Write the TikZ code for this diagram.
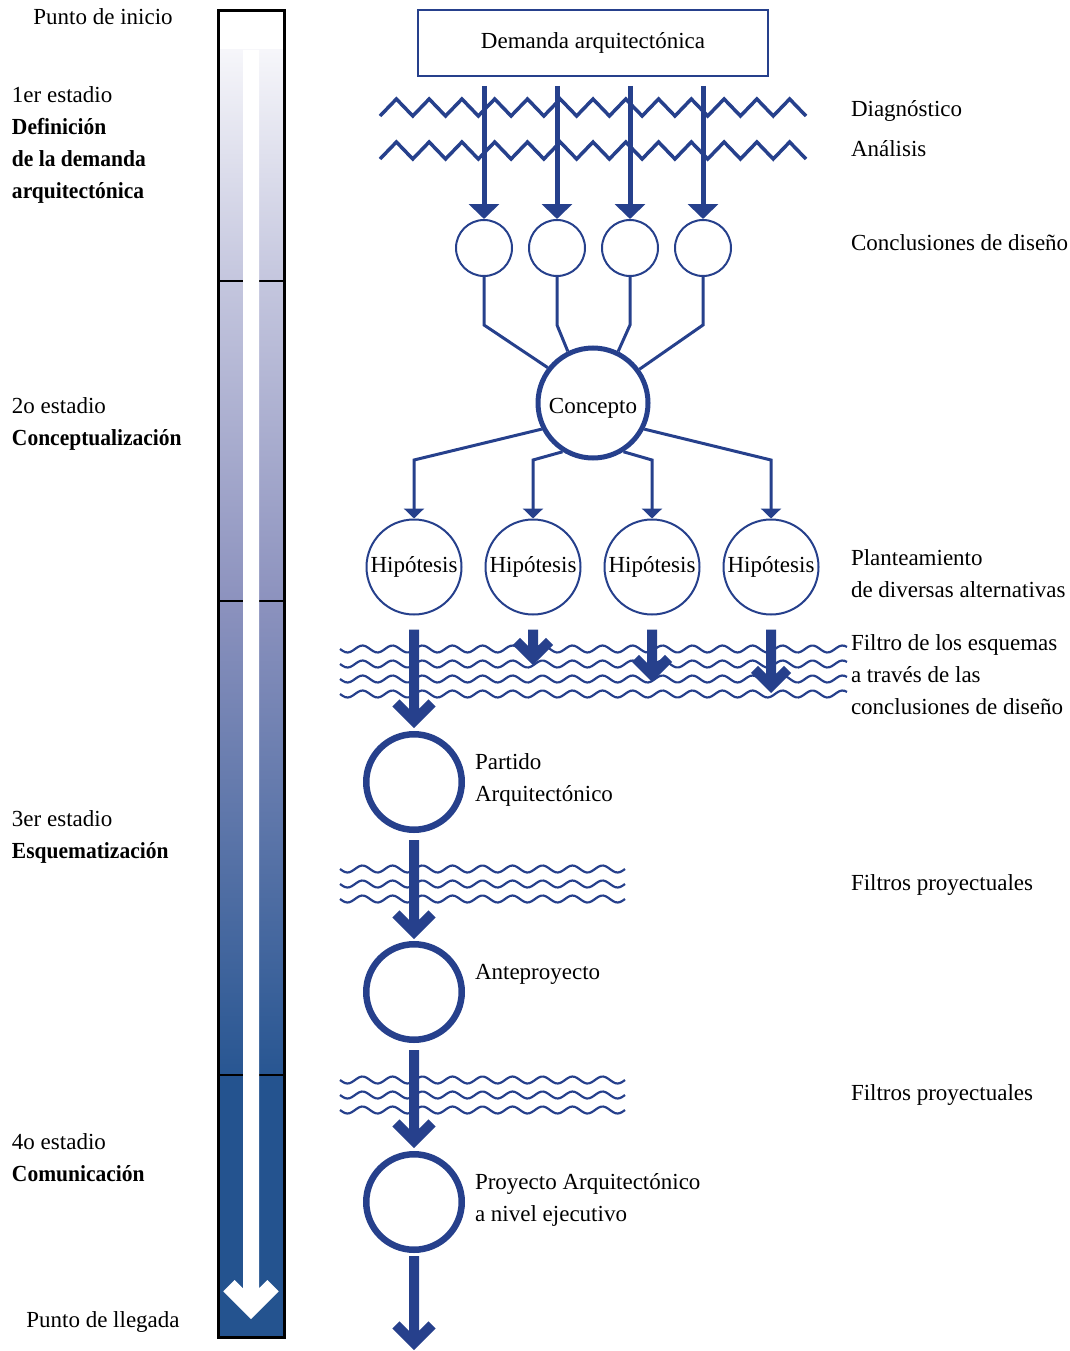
\documentclass[tikz,border=0pt]{standalone}
\usepackage{fontspec}
\setmainfont{Liberation Serif}
\newfontface\headface{Liberation Serif Bold}[FakeStretch=0.935]
\usetikzlibrary{arrows.meta,calc}

\definecolor{ink}{RGB}{38,64,140}
\definecolor{barA}{RGB}{246,246,250}
\definecolor{barB}{RGB}{196,198,222}
\definecolor{barC}{RGB}{140,146,190}
\definecolor{barD}{RGB}{40,86,146}
\definecolor{barE}{RGB}{36,83,143}

% heavy arrow with an open chevron head: start, tip, arm length, apex offset
\newcommand\chevarrow[4]{%
  \draw[heavy] #1 -- ($#2+(0,-#4)$) ++(-#3,-#3) -- ++(#3,#3) -- ++(#3,-#3);}

\begin{document}
\begin{tikzpicture}[x=1pt,y=-1pt,
  font=\fontsize{23}{32}\selectfont,
  txt/.style={inner sep=0pt, outer sep=0pt, anchor=base west},
  head/.style={txt, font=\fontsize{23}{32}\headface},
  ring/.style={circle, draw=ink, inner sep=0pt},
  small/.style={ring, line width=2pt, minimum size=56pt},
  hyp/.style={ring, line width=2pt, minimum size=95pt},
  core/.style={ring, line width=5pt, minimum size=110pt, text height=20pt, text depth=0pt},
  stage/.style={ring, line width=6.5pt, minimum size=95.5pt},
  feed/.style={draw=ink, line width=5pt, -{Triangle[length=15pt,width=30pt]}},
  link/.style={draw=ink, line width=3pt, line join=miter},
  branch/.style={link, -{Triangle[length=10pt,width=20pt]}},
  heavy/.style={draw=ink, line width=10pt, line join=miter},
  zig/.style={draw=ink, line width=3.5pt, line join=miter},
  wave/.style={draw=ink, line width=2.2pt},
]
\useasboundingbox (0,0) rectangle (1069,1351);

% ---------- stage bar ----------
\shade[top color=barA, bottom color=barB] (218.5,50) rectangle (284,281);
\shade[top color=barB, bottom color=barC] (218.5,281) rectangle (284,601);
\shade[top color=barC, bottom color=barD] (218.5,601) rectangle (284,1075);
\fill[barE] (218.5,1075) rectangle (284,1337.5);
\foreach \yy in {281,601,1075}
  \draw[black, line width=2.5pt] (218.5,\yy) -- (284,\yy);
\coordinate (flowtop) at (251,50);
\coordinate (flowtip) at (251,1319);
\draw[white, line width=16pt, line join=miter]
  (flowtop) -- ($(flowtip)+(0,-11.31)$) ++(-22,-22) -- ++(22,22) -- ++(22,-22);
\draw[black, line width=3pt] (218.5,10.5) rectangle (284,1337.5);

% ---------- stage texts ----------
\node[inner sep=0pt, anchor=base] at (103,25) {Punto de inicio};
\node[txt]  at (12,103) {1er estadio};
\node[head] at (12,135) {Definición};
\node[head] at (12,167) {de la demanda};
\node[head] at (12,199) {arquitectónica};
\node[txt]  at (12,413) {2o estadio};
\node[head] at (12,445) {Conceptualización};
\node[txt]  at (12,826) {3er estadio};
\node[head] at (12,858) {Esquematización};
\node[txt]  at (12,1149) {4o estadio};
\node[head] at (12,1181) {Comunicación};
\node[inner sep=0pt, anchor=base] at (103,1327) {Punto de llegada};

% ---------- filters (drawn under the arrows) ----------
\foreach \yy in {107.5,150.5}
  \draw[zig] plot[samples at={0,...,26}] ({380+16.385*\x}, {\yy+8.5*cos(180*\x)});
\foreach \yy in {649,664,679,694}
  \draw[wave] plot[domain=340:847, samples=200] (\x, {\yy+3.5*sin(12*(\x-340))});
\foreach \yy in {869,884,899,1080,1095,1110}
  \draw[wave] plot[domain=340:625, samples=120] (\x, {\yy+3.5*sin(12*(\x-340))});

% ---------- nodes ----------
\node[draw=ink, line width=2.2pt, minimum width=350pt, minimum height=66pt, inner sep=0pt]
  (demand) at (593,43) {Demanda arquitectónica};
\node[small] (c1) at (484,248) {};
\node[small] (c2) at (557,248) {};
\node[small] (c3) at (630,248) {};
\node[small] (c4) at (703,248) {};
\node[core] (core) at (593,403) {Concepto};
\node[hyp] (h1) at (414,567) {Hipótesis};
\node[hyp] (h2) at (533,567) {Hipótesis};
\node[hyp] (h3) at (652,567) {Hipótesis};
\node[hyp] (h4) at (771,567) {Hipótesis};
\node[stage] (p1) at (414,782) {};
\node[stage] (p2) at (414,992) {};
\node[stage] (p3) at (414,1202) {};

% ---------- side labels ----------
\node[txt] at (851,117) {Diagnóstico};
\node[txt] at (851,157) {Análisis};
\node[txt] at (851,250) {Conclusiones de diseño};
\node[txt] at (851,565) {Planteamiento};
\node[txt] at (851,597) {de diversas alternativas};
\node[txt] at (851,650) {Filtro de los esquemas};
\node[txt] at (851,682) {a través de las};
\node[txt] at (851,714) {conclusiones de diseño};
\node[txt] at (851,890) {Filtros proyectuales};
\node[txt] at (851,1100) {Filtros proyectuales};
\node[txt] at (475,769) {Partido};
\node[txt] at (475,801) {Arquitectónico};
\node[txt] at (475,979) {Anteproyecto};
\node[txt] at (475,1189) {Proyecto Arquitectónico};
\node[txt] at (475,1221) {a nivel ejecutivo};

% ---------- connectors ----------
\coordinate (feedtop) at (0,86);
\coordinate (kneeA) at (0,325);
\coordinate (kneeB) at (0,460);
\foreach \c in {c1,c2,c3,c4}
  \draw[feed] (\c |- feedtop) -- (\c.north);

\draw[link] (c1.south) -- (c1 |- kneeA) -- (core.142);
\draw[link] (c2.south) -- (c2 |- kneeA) -- (core.116);
\draw[link] (c3.south) -- (c3 |- kneeA) -- (core.64);
\draw[link] (c4.south) -- (c4 |- kneeA) -- (core.36);

\draw[branch] (core.207) -- (h1.north |- kneeB) -- (h1.north);
\draw[branch] (core.238) -- (h2.north |- kneeB) -- (h2.north);
\draw[branch] (core.302) -- (h3.north |- kneeB) -- (h3.north);
\draw[branch] (core.333) -- (h4.north |- kneeB) -- (h4.north);

\coordinate (f2) at ($(h2.south)+(0,49.5)$);
\coordinate (f3) at ($(h3.south)+(0,66.5)$);
\coordinate (f4) at ($(h4.south)+(0,77.5)$);
\coordinate (exit) at ($(p3.south)+(0,97)$);

\chevarrow{([yshift=-14pt]h1.south)}{([yshift=3pt]p1.north)}{18}{7.07}
\chevarrow{([yshift=-14pt]h2.south)}{(f2)}{16.5}{7.07}
\chevarrow{([yshift=-14pt]h3.south)}{(f3)}{16.5}{7.07}
\chevarrow{([yshift=-14pt]h4.south)}{(f4)}{16.5}{7.07}
\chevarrow{([yshift=-7pt]p1.south)}{([yshift=2pt]p2.north)}{18}{7.07}
\chevarrow{([yshift=-7pt]p2.south)}{([yshift=3pt]p3.north)}{18}{7.07}
\chevarrow{([yshift=-3pt]p3.south)}{(exit)}{18}{7.07}

\end{tikzpicture}
\end{document}
